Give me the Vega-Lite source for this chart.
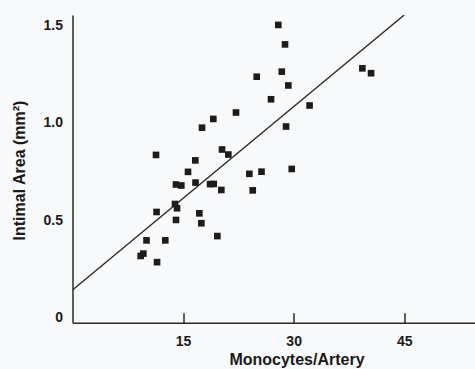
{
  "$schema": "https://vega.github.io/schema/vega-lite/v6.json",
  "width": 402.5,
  "height": 307.7,
  "autosize": "none",
  "padding": {"left": 72.5, "top": 15, "right": 0, "bottom": 46.3},
  "background": "#f8f9fb",
  "config": {
    "view": {"stroke": null},
    "font": "Liberation Sans",
    "axis": {"grid": false, "domainColor": "#2a2a2a", "domainWidth": 1.5, "labelFont": "Liberation Sans", "labelFontWeight": "bold", "labelFontSize": 14, "labelColor": "#1a1a1a", "titleFont": "Liberation Sans", "titleFontWeight": "bold", "titleFontSize": 16, "titleColor": "#1a1a1a"}
  },
  "datasets": {
    "pts": [
      {"monocytes": 27.92, "area": 1.503},
      {"monocytes": 28.83, "area": 1.403},
      {"monocytes": 24.99, "area": 1.237},
      {"monocytes": 28.39, "area": 1.263},
      {"monocytes": 29.28, "area": 1.192},
      {"monocytes": 26.93, "area": 1.121},
      {"monocytes": 32.16, "area": 1.089},
      {"monocytes": 22.18, "area": 1.053},
      {"monocytes": 19.10, "area": 1.020},
      {"monocytes": 17.57, "area": 0.975},
      {"monocytes": 28.97, "area": 0.981},
      {"monocytes": 20.28, "area": 0.863},
      {"monocytes": 21.14, "area": 0.837},
      {"monocytes": 16.66, "area": 0.807},
      {"monocytes": 15.67, "area": 0.748},
      {"monocytes": 23.99, "area": 0.738},
      {"monocytes": 25.64, "area": 0.749},
      {"monocytes": 29.74, "area": 0.763},
      {"monocytes": 39.32, "area": 1.280},
      {"monocytes": 40.50, "area": 1.255},
      {"monocytes": 11.33, "area": 0.835},
      {"monocytes": 14.04, "area": 0.683},
      {"monocytes": 14.76, "area": 0.678},
      {"monocytes": 16.69, "area": 0.693},
      {"monocytes": 13.91, "area": 0.583},
      {"monocytes": 14.18, "area": 0.561},
      {"monocytes": 11.40, "area": 0.542},
      {"monocytes": 14.04, "area": 0.501},
      {"monocytes": 10.04, "area": 0.396},
      {"monocytes": 12.59, "area": 0.396},
      {"monocytes": 9.61, "area": 0.328},
      {"monocytes": 9.25, "area": 0.316},
      {"monocytes": 11.47, "area": 0.284},
      {"monocytes": 18.66, "area": 0.685},
      {"monocytes": 19.16, "area": 0.686},
      {"monocytes": 20.19, "area": 0.655},
      {"monocytes": 24.45, "area": 0.653},
      {"monocytes": 17.21, "area": 0.535},
      {"monocytes": 17.48, "area": 0.484},
      {"monocytes": 19.65, "area": 0.418}
    ],
    "fit": [
      {"monocytes": 0, "area": 0.141},
      {"monocytes": 45, "area": 1.554}
    ]
  },
  "layer": [
    {
      "data": {"name": "fit"},
      "mark": {"type": "line", "color": "#2a2a2a", "strokeWidth": 1.4, "clip": true},
      "encoding": {
        "x": {"field": "monocytes", "type": "quantitative"},
        "y": {"field": "area", "type": "quantitative"}
      }
    },
    {
      "data": {"name": "pts"},
      "mark": {"type": "point", "shape": "square", "filled": true, "size": 44, "color": "#1c1c1c", "opacity": 1},
      "encoding": {
        "x": {
          "field": "monocytes", "type": "quantitative",
          "scale": {"domain": [0, 54.6], "nice": false, "zero": false},
          "axis": {"values": [15, 30, 45], "title": "Monocytes/Artery", "tickSize": -10, "tickColor": "#2a2a2a", "tickWidth": 1.5, "labelPadding": 22, "labelDx": 2, "titleX": 224, "titleY": 41.5, "titleBaseline": "alphabetic", "titleAlign": "center", "titleAnchor": null}
        },
        "y": {
          "field": "area", "type": "quantitative",
          "scale": {"domain": [-0.027, 1.554], "nice": false, "zero": false},
          "axis": {"values": [0, 0.5, 1, 1.5], "labelExpr": "datum.value == 0 ? '0' : format(datum.value, '.1f')", "ticks": false, "labelPadding": 10, "title": "Intimal Area (mm²)", "titleX": -53.5, "titleY": 155, "titleAngle": -90, "titleBaseline": "middle", "titleAlign": "center", "titleAnchor": null}
        }
      }
    }
  ]
}
